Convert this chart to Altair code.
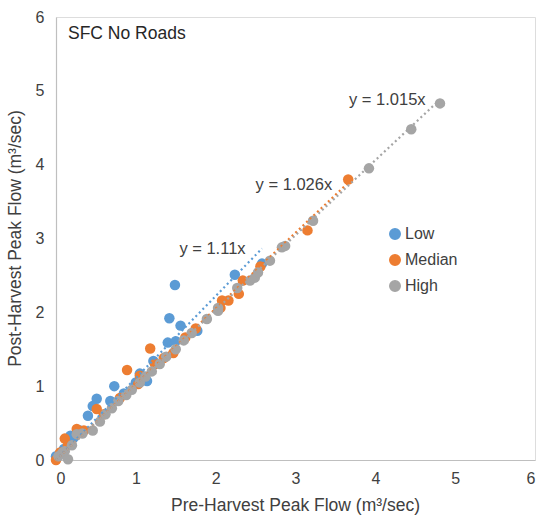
import altair as alt
import pandas as pd

# Peak flow pairs (m³/sec): pre-harvest vs post-harvest, per flow class
low_pre = [0.0, 0.05, 0.10, 0.18, 0.22, 0.30, 0.40, 0.46, 0.51, 0.68, 0.73, 0.85,
           1.00, 1.05, 1.14, 1.22, 1.40, 1.42, 1.49, 1.50, 1.56, 1.77, 2.24, 2.58]
low_post = [0.05, 0.08, 0.15, 0.33, 0.30, 0.40, 0.60, 0.73, 0.83, 0.80, 1.00, 0.90,
            1.05, 1.17, 1.07, 1.34, 1.59, 1.92, 2.37, 1.61, 1.82, 1.75, 2.51, 2.66]

median_pre = [0.0, 0.05, 0.11, 0.15, 0.26, 0.35, 0.51, 0.60, 0.80, 0.89, 1.03, 1.05, 1.18,
              1.24, 1.35, 1.47, 1.62, 1.75, 2.06, 2.08, 2.16, 2.29, 2.34, 2.56, 3.15, 3.66]
median_post = [0.0, 0.10, 0.29, 0.20, 0.42, 0.40, 0.69, 0.62, 0.84, 1.22, 1.03, 1.14, 1.51,
               1.30, 1.38, 1.45, 1.66, 1.78, 2.06, 2.16, 2.16, 2.25, 2.43, 2.62, 3.11, 3.80]

high_pre = [0.03, 0.08, 0.11, 0.15, 0.20, 0.26, 0.33, 0.46, 0.55, 0.62, 0.70, 0.78, 0.88,
            0.95, 1.05, 1.12, 1.20, 1.30, 1.38, 1.50, 1.60, 1.70, 1.89, 2.03, 2.03, 2.27,
            2.43, 2.49, 2.53, 2.68, 2.83, 2.87, 3.22, 3.92, 4.45, 4.81]
high_post = [0.05, 0.10, 0.12, 0.01, 0.20, 0.35, 0.36, 0.40, 0.52, 0.62, 0.70, 0.80, 0.88,
             0.95, 1.05, 1.13, 1.20, 1.30, 1.40, 1.50, 1.62, 1.72, 1.91, 2.02, 2.06, 2.33,
             2.43, 2.47, 2.54, 2.70, 2.88, 2.90, 3.24, 3.95, 4.48, 4.83]

series = ["Low", "Median", "High"]
colors = ["#5B9BD5", "#ED7D31", "#A5A5A5"]
slopes = [1.11, 1.026, 1.015]
eq_labels = ["y = 1.11x", "y = 1.026x", "y = 1.015x"]
# label anchor points (data units)
eq_x = [1.96, 2.98, 4.15]
eq_y = [2.86, 3.72, 4.87]

pre = [low_pre, median_pre, high_pre]
post = [low_post, median_post, high_post]

points = pd.DataFrame(
    [{"series": s, "pre": x, "post": y}
     for s, xs, ys in zip(series, pre, post) for x, y in zip(xs, ys)]
)
points["order"] = points["series"].map({s: i for i, s in enumerate(series)})

# zero-intercept trendlines spanning each series' range
trend = pd.DataFrame(
    [{"series": s, "pre": x, "post": k * x}
     for s, k, xs in zip(series, slopes, pre) for x in (0.0, max(xs))]
)
labels = pd.DataFrame({"series": series, "label": eq_labels, "x": eq_x, "y": eq_y})

font = "Liberation Sans"
txt = "#404040"

xscale = alt.Scale(domain=[0, 6], nice=False, zero=True)
yscale = alt.Scale(domain=[0, 6], nice=False, zero=True)
cscale = alt.Scale(domain=series, range=colors)

x_axis = alt.Axis(
    title="Pre-Harvest Peak Flow (m³/sec)", values=[0, 1, 2, 3, 4, 5, 6], format="d",
    grid=False, ticks=False, domainColor="#BFBFBF", domainWidth=1.2,
    labelFont=font, labelFontSize=16, labelColor=txt, labelPadding=10,
    titleFont=font, titleFontSize=17.5, titleFontWeight="normal", titleColor=txt,
    titleX=239, titleY=45, titleBaseline="middle",
)
y_axis = alt.Axis(
    title="Post-Harvest Peak Flow (m³/sec)", values=[0, 1, 2, 3, 4, 5, 6], format="d",
    grid=False, ticks=False, domainColor="#BFBFBF", domainWidth=1.2,
    labelFont=font, labelFontSize=16, labelColor=txt, labelPadding=12,
    titleFont=font, titleFontSize=17.5, titleFontWeight="normal", titleColor=txt,
    titleX=-41, titleY=221, titleAngle=-90, titleBaseline="middle",
)

pts = alt.Chart(points).mark_circle(size=110, opacity=1).encode(
    x=alt.X("pre:Q", scale=xscale, axis=x_axis),
    y=alt.Y("post:Q", scale=yscale, axis=y_axis),
    color=alt.Color(
        "series:N", scale=cscale,
        legend=alt.Legend(
            title=None, orient="none", legendX=331, legendY=209,
            symbolType="circle", symbolSize=110, labelFont=font, labelFontSize=16,
            labelColor=txt, rowPadding=8, labelOffset=2, padding=0,
        ),
    ),
    order=alt.Order("order:Q"),
)

lines = alt.Chart(trend).mark_line(strokeWidth=2.2, strokeDash=[2, 3]).encode(
    x=alt.X("pre:Q", scale=xscale),
    y=alt.Y("post:Q", scale=yscale),
    color=alt.Color("series:N", scale=cscale, legend=None),
    detail="series:N",
)

eqs = alt.Chart(labels).mark_text(font=font, fontSize=16.5, color=txt).encode(
    x=alt.X("x:Q", scale=xscale),
    y=alt.Y("y:Q", scale=yscale),
    text="label:N",
)

panel_title = alt.Chart(pd.DataFrame({"t": ["SFC No Roads"], "x": [0.15], "y": [5.77]})).mark_text(
    font=font, fontSize=17.5, color="#262626", align="left", baseline="middle"
).encode(
    x=alt.X("x:Q", scale=xscale),
    y=alt.Y("y:Q", scale=yscale),
    text="t:N",
)

chart = alt.layer(pts, lines, eqs, panel_title).properties(
    width=479, height=443,
    autosize=alt.AutoSizeParams(type="none"),
    padding={"left": 56, "top": 17, "right": 6, "bottom": 61},
).configure_view(stroke=None).configure(background="white")

chart.save("out.html", embed_options={"renderer": "svg", "actions": False})
